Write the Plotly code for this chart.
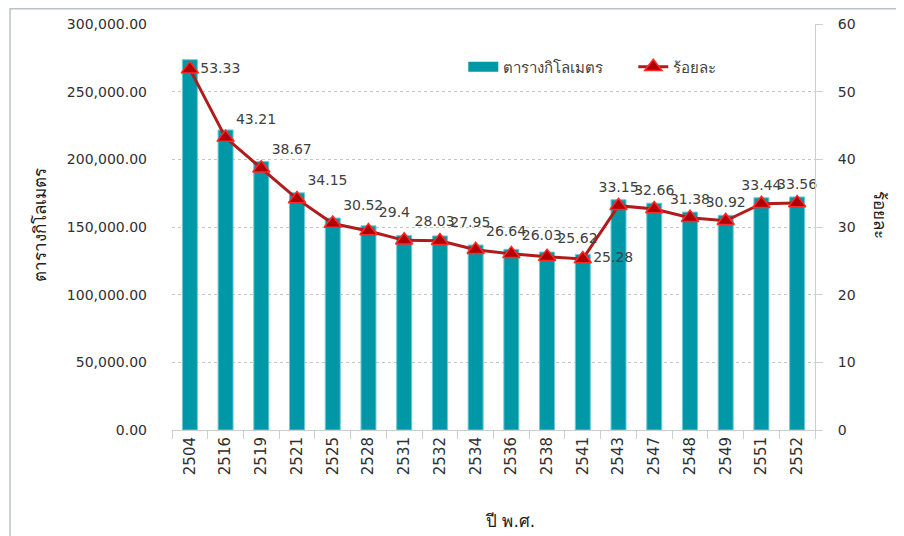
import plotly.graph_objects as go

years = ["2504", "2516", "2519", "2521", "2525", "2528", "2531", "2532", "2534",
         "2536", "2538", "2541", "2543", "2547", "2548", "2549", "2551", "2552"]
area_km2 = [273629, 221707, 198417, 175224, 156600, 150866, 143803, 143417, 136698,
            133521, 131485, 129722, 170110, 167591, 161001, 158652, 171586, 172183]
percent = [53.33, 43.21, 38.67, 34.15, 30.52, 29.4, 28.03, 27.95, 26.64,
           26.03, 25.62, 25.28, 33.15, 32.66, 31.38, 30.92, 33.44, 33.56]
pct_labels = ["53.33", "43.21", "38.67", "34.15", "30.52", "29.4", "28.03", "27.95", "26.64",
              "26.03", "25.62", "25.28", "33.15", "32.66", "31.38", "30.92", "33.44", "33.56"]
label_pos = ["middle right"] + ["top right"] * 10 + ["middle right"] + ["top center"] * 6

FONT = "DejaVu Sans, Tahoma, Verdana, sans-serif"
TXT = "#404040"
BAR = "#0097A7"

# page body has an 8px margin; figure is laid out so the plot sits at page x 172..815, y 24..430
W, H = 896, 528
L, R, T, B = 164, 89, 16, 106
PW, PH = W - L - R, H - T - B


def px(x):  # figure-pixel x -> paper
    return (x - L) / PW


def py(y):  # figure-pixel y -> paper
    return (H - B - y) / PH


fig = go.Figure()
fig.add_trace(go.Bar(
    x=years, y=area_km2, name="ตารางกิโลเมตร", showlegend=False,
    marker=dict(color=BAR, line=dict(color="#6CCBD6", width=1)),
    width=0.42, yaxis="y",
))
# legend stand-in for the bars (wide swatch as in the reference)
fig.add_trace(go.Scatter(
    x=[None], y=[None], name="ตารางกิโลเมตร", mode="lines",
    line=dict(color=BAR, width=11), yaxis="y", hoverinfo="skip",
))
fig.add_trace(go.Scatter(
    x=years, y=percent, name="ร้อยละ", yaxis="y2",
    mode="lines+markers+text",
    line=dict(color="#B01C1C", width=3),
    marker=dict(symbol="triangle-up", size=15, color="#B00000",
                line=dict(color="#FF2A2A", width=1.5)),
    text=pct_labels, textposition=label_pos,
    textfont=dict(family=FONT, size=14, color=TXT),
    cliponaxis=False,
))

fig.update_layout(
    width=W, height=H,
    paper_bgcolor="white", plot_bgcolor="white",
    margin=dict(l=L, r=R, t=T, b=B, autoexpand=False),
    font=dict(family=FONT, size=14, color=TXT),
    showlegend=True,
    legend=dict(orientation="h", x=0.453, y=py(67 - 8), xanchor="left", yanchor="middle",
                bgcolor="rgba(0,0,0,0)", font=dict(size=15, color=TXT),
                traceorder="normal", entrywidth=125, entrywidthmode="pixels"),
    xaxis=dict(
        type="category", range=[-0.5, 17.5], autorange=False, automargin=False,
        tickangle=-90, showline=True, linecolor="#C8D0D0", linewidth=1,
        ticks="outside", tickson="boundaries", ticklen=8, tickcolor="#C8D0D0",
        tickfont=dict(size=15, color="#303030"), showgrid=False,
    ),
    yaxis=dict(
        range=[0, 300000], dtick=50000, tickformat=",.2f", showline=False,
        showgrid=True, gridcolor="#C0C8C8", griddash="dot", gridwidth=1,
        ticklabelstandoff=24, zeroline=False, automargin=False,
        tickfont=dict(size=14, color="#303030"),
    ),
    yaxis2=dict(
        range=[0, 60], dtick=10, overlaying="y", side="right", showgrid=False,
        showline=True, linecolor="#C8D0D0", linewidth=1, ticks="outside", ticklen=7,
        tickcolor="#C8D0D0", ticklabelstandoff=12, zeroline=False, automargin=False,
        tickfont=dict(size=14, color="#303030"),
    ),
    shapes=[dict(type="rect", xref="paper", yref="paper",
                 x0=px(2), x1=px(W + 20), y0=py(H + 20), y1=py(0.8),
                 line=dict(color="#B8C4C4", width=1.5), fillcolor="rgba(0,0,0,0)",
                 layer="below")],
    annotations=[
        dict(text="ตารางกิโลเมตร", xref="paper", yref="paper", x=px(40 - 8),
             y=py(225 - 8), textangle=-90, showarrow=False,
             font=dict(size=17, color="#202020"), xanchor="center", yanchor="middle"),
        dict(text="ร้อยละ", xref="paper", yref="paper", x=px(880 - 8),
             y=py(215 - 8), textangle=90, showarrow=False,
             font=dict(size=17, color="#202020"), xanchor="center", yanchor="middle"),
        dict(text="ปี พ.ศ.", xref="paper", yref="paper", x=px(510 - 8),
             y=py(521 - 8), showarrow=False,
             font=dict(size=17, color="#202020"), xanchor="center", yanchor="middle"),
    ],
)

fig.write_html("out.html")
